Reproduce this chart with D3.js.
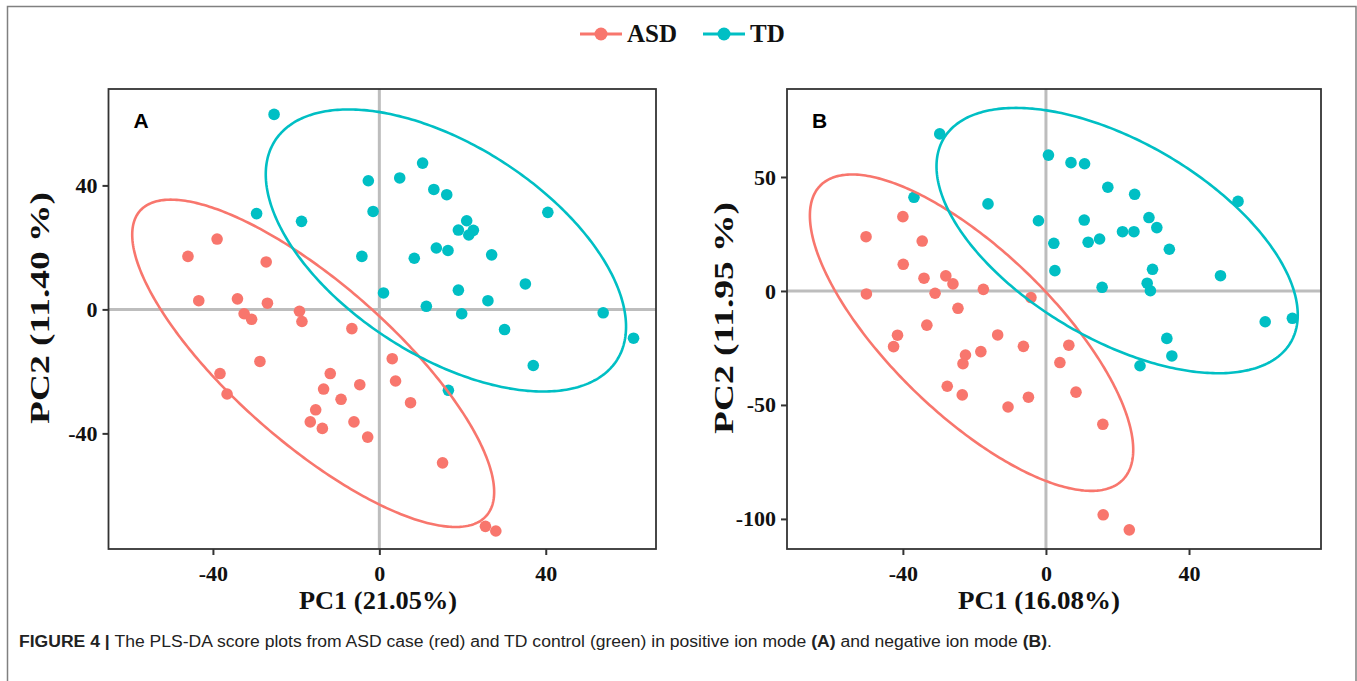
<!DOCTYPE html>
<html><head><meta charset="utf-8">
<script src="https://cdn.jsdelivr.net/npm/d3@7"></script>
<style>body{margin:0;background:#fff}svg{display:block}</style>
</head><body>
<svg id="chart" width="1357" height="681"></svg>
<script>
// ---- data ----
const groups = ["ASD", "TD"];
const groupColors = ["#F8766D", "#00BFC4"];

const asdA = [[-39,22.7],[-46,17.1],[-27.2,15.3],[-43.4,2.8],[-34.1,3.4],[-26.9,2.0],[-19.2,-0.6],[-18.6,-3.9],[-32.5,-1.4],[-30.7,-3.2],[-6.6,-6.2],[-28.7,-16.8],[-38.3,-20.7],[-36.6,-27.3],[-11.8,-20.7],[-13.4,-25.7],[-4.7,-24.3],[-9.2,-29],[-15.3,-32.4],[-16.6,-36.3],[-13.7,-38.4],[-6.1,-36.3],[-2.8,-41.2],[3.1,-15.9],[3.9,-23.1],[7.5,-30.1],[15.2,-49.5],[25.5,-70],[28,-71.5]];
const tdA = [[-25.3,62.9],[-29.5,30.9],[-18.7,28.4],[-4.2,17.1],[-2.65,41.5],[-1.5,31.6],[10.4,47.2],[4.9,42.4],[13.1,38.7],[16.2,37],[40.5,31.3],[21,28.6],[19,25.6],[22.6,25.5],[21.5,24.0],[13.7,19.8],[16.5,19],[8.4,16.5],[27,17.6],[1,5.3],[19,6.2],[35.1,8.2],[11.3,1.0],[19.8,-1.4],[26.1,2.8],[53.8,-1.1],[61.1,-9.3],[30.1,-6.5],[37,-18.1],[16.6,-26.1]];
const asdB = [[-40,32.6],[-50.3,23.8],[-34.6,21.9],[-39.9,11.7],[-34.1,5.6],[-28,6.6],[-26,3.1],[-50.2,-1.3],[-31,-1],[-17.5,0.7],[-4.2,-2.9],[-24.6,-7.6],[-33.3,-15],[-41.5,-19.4],[-42.6,-24.4],[-13.5,-19.3],[-6.3,-24.3],[-18.2,-26.6],[-22.5,-28.1],[-23.2,-31.9],[-27.6,-41.8],[-23.4,-45.6],[-4.9,-46.6],[-10.6,-50.9],[6.4,-23.8],[3.9,-31.4],[8.4,-44.4],[15.9,-58.5],[16,-98.2],[23.3,-104.8]];
const tdB = [[-29.7,68.9],[-36.9,41.1],[-16.2,38.2],[-2.1,30.8],[0.7,59.6],[2.2,20.9],[2.5,8.9],[7,56.3],[10.8,55.8],[17.3,45.5],[24.8,42.4],[53.7,39.3],[10.7,31.1],[28.8,32.2],[31,27.8],[11.8,21.4],[15,22.8],[21.4,26],[24.6,26],[34.5,18.3],[29.8,9.5],[48.8,6.7],[15.7,1.6],[28.3,3.4],[29.2,0.1],[26.3,-32.8],[33.8,-20.8],[35.2,-28.5],[61.3,-13.5],[68.9,-12]];

// ellipses: center, half-extent x, half-extent y, correlation
const ellipseA = [{cx:-15.9, cy:-17.4, rx:43.5, ry:52.8, rho:-0.786}, {cx:16.0, cy:19.0, rx:43.3, ry:45.5, rho:-0.54}];
const ellipseB = [{cx:-20.8, cy:-18.3, rx:45.2, ry:69.4, rho:-0.74}, {cx:19.9, cy:22.1, rx:50.5, ry:58.2, rho:-0.56}];

const xTicksA = [-40, 0, 40];
const yTicksA = [-40, 0, 40];
const xTicksB = [-40, 0, 40];
const yTicksB = [-100, -50, 0, 50];
const xDomainA = [-65.1, 66.5], yDomainA = [-77.3, 71.1];
const xDomainB = [-72.4, 76.9], yDomainB = [-113.2, 88.6];
const xTitleA = "PC1 (21.05%)", yTitleA = "PC2 (11.40 %)";
const xTitleB = "PC1 (16.08%)", yTitleB = "PC2 (11.95 %)";

// ---- drawing ----
const svg = d3.select("#chart");
const serif = "'Liberation Serif','Times New Roman',serif";

// outer frame
svg.append("rect").attr("x", 7.5).attr("y", 6.5).attr("width", 1348.5).attr("height", 700)
  .attr("fill", "none").attr("stroke", "#808080").attr("stroke-width", 1.5);

function panel(cfg) {
  const x = d3.scaleLinear().domain(cfg.xDomain).range([cfg.left, cfg.right]);
  const y = d3.scaleLinear().domain(cfg.yDomain).range([cfg.bottom, cfg.top]);
  const g = svg.append("g");
  const clipId = "clip" + cfg.label;
  g.append("clipPath").attr("id", clipId).append("rect")
    .attr("x", cfg.left).attr("y", cfg.top).attr("width", cfg.right - cfg.left).attr("height", cfg.bottom - cfg.top);

  // reference lines at zero
  g.append("line").attr("x1", cfg.left).attr("x2", cfg.right).attr("y1", y(0)).attr("y2", y(0))
    .attr("stroke", "#bdbdbd").attr("stroke-width", 3);
  g.append("line").attr("x1", x(0)).attr("x2", x(0)).attr("y1", cfg.top).attr("y2", cfg.bottom)
    .attr("stroke", "#bdbdbd").attr("stroke-width", 3);

  const pg = g.append("g").attr("clip-path", `url(#${clipId})`);
  // points
  cfg.series.forEach((s, i) => {
    pg.selectAll(null).data(s).enter().append("circle")
      .attr("cx", d => x(d[0])).attr("cy", d => y(d[1])).attr("r", 5.8)
      .attr("fill", groupColors[i]);
  });
  // ellipses
  const line = d3.line().x(d => x(d[0])).y(d => y(d[1])).curve(d3.curveLinearClosed);
  cfg.ellipses.forEach((e, i) => {
    const pts = d3.range(0, 360, 1).map(a => {
      const t = a * Math.PI / 180;
      return [e.cx + e.rx * Math.cos(t), e.cy + e.ry * (e.rho * Math.cos(t) - Math.sqrt(1 - e.rho * e.rho) * Math.sin(t))];
    });
    pg.append("path").attr("d", line(pts)).attr("fill", "none")
      .attr("stroke", groupColors[i]).attr("stroke-width", 2.6);
  });

  // axes
  const fmt = d => String(d);
  const xa = g.append("g").attr("transform", `translate(0,${cfg.bottom})`)
    .call(d3.axisBottom(x).tickValues(cfg.xTicks).tickFormat(fmt).tickSize(6).tickPadding(5).tickSizeOuter(0));
  const ya = g.append("g").attr("transform", `translate(${cfg.left},0)`)
    .call(d3.axisLeft(y).tickValues(cfg.yTicks).tickFormat(fmt).tickSize(6).tickPadding(5).tickSizeOuter(0));
  [xa, ya].forEach(a => {
    a.select(".domain").remove();
    a.selectAll(".tick line").attr("stroke", "#333").attr("stroke-width", 2);
    a.selectAll(".tick text").attr("font-family", serif).attr("font-weight", "bold")
      .attr("font-size", 22).attr("fill", "#111");
  });
  xa.selectAll(".tick text").attr("dy", "0.95em");

  // box
  g.append("rect").attr("x", cfg.left).attr("y", cfg.top)
    .attr("width", cfg.right - cfg.left).attr("height", cfg.bottom - cfg.top)
    .attr("fill", "none").attr("stroke", "#333").attr("stroke-width", 1.8);

  // panel letter
  g.append("text").attr("x", cfg.left + 25).attr("y", cfg.top + 39).text(cfg.label)
    .attr("font-family", "'Liberation Sans',Arial,sans-serif").attr("font-weight", "bold")
    .attr("font-size", 21).attr("fill", "#000");

  // titles
  g.append("text").attr("x", cfg.xTitleX).attr("y", 609).attr("text-anchor", "middle")
    .attr("font-family", serif).attr("font-weight", "bold").attr("font-size", 26)
    .attr("textLength", cfg.xTitleLen).attr("lengthAdjust", "spacingAndGlyphs")
    .attr("fill", "#111").text(cfg.xTitle);
  g.append("text").attr("transform", `translate(${cfg.yTitleX},${cfg.yTitleY}) rotate(-90)`)
    .attr("text-anchor", "middle")
    .attr("font-family", serif).attr("font-weight", "bold").attr("font-size", 27)
    .attr("textLength", cfg.yTitleLen).attr("lengthAdjust", "spacingAndGlyphs")
    .attr("fill", "#111").text(cfg.yTitle);
}

panel({label: "A", left: 108.5, right: 656, top: 89, bottom: 549,
  xDomain: xDomainA, yDomain: yDomainA, xTicks: xTicksA, yTicks: yTicksA,
  series: [asdA, tdA], ellipses: ellipseA,
  xTitle: xTitleA, yTitle: yTitleA, xTitleX: 378, xTitleLen: 158,
  yTitleX: 49, yTitleY: 308, yTitleLen: 232});

panel({label: "B", left: 787, right: 1321, top: 89, bottom: 549,
  xDomain: xDomainB, yDomain: yDomainB, xTicks: xTicksB, yTicks: yTicksB,
  series: [asdB, tdB], ellipses: ellipseB,
  xTitle: xTitleB, yTitle: yTitleB, xTitleX: 1039, xTitleLen: 162,
  yTitleX: 733, yTitleY: 318, yTitleLen: 232});

// legend
const lg = svg.append("g");
const legendX = [580, 703];
groups.forEach((name, i) => {
  const gx = legendX[i];
  lg.append("line").attr("x1", gx).attr("x2", gx + 42).attr("y1", 34).attr("y2", 34)
    .attr("stroke", groupColors[i]).attr("stroke-width", 3);
  lg.append("circle").attr("cx", gx + 21).attr("cy", 34).attr("r", 6.5).attr("fill", groupColors[i]);
  lg.append("text").attr("x", gx + 47).attr("y", 42).text(name)
    .attr("font-family", serif).attr("font-weight", "bold").attr("font-size", 25).attr("fill", "#111");
});

// caption
const cap = svg.append("text").attr("x", 19).attr("y", 647)
  .attr("font-family", "'Liberation Sans',Arial,sans-serif").attr("font-size", 16).attr("fill", "#222")
  .attr("textLength", 1033).attr("lengthAdjust", "spacingAndGlyphs");
cap.append("tspan").attr("font-weight", "bold").text("FIGURE 4 | ");
cap.append("tspan").text("The PLS-DA score plots from ASD case (red) and TD control (green) in positive ion mode ");
cap.append("tspan").attr("font-weight", "bold").text("(A)");
cap.append("tspan").text(" and negative ion mode ");
cap.append("tspan").attr("font-weight", "bold").text("(B)");
cap.append("tspan").text(".");
</script>
</body></html>
